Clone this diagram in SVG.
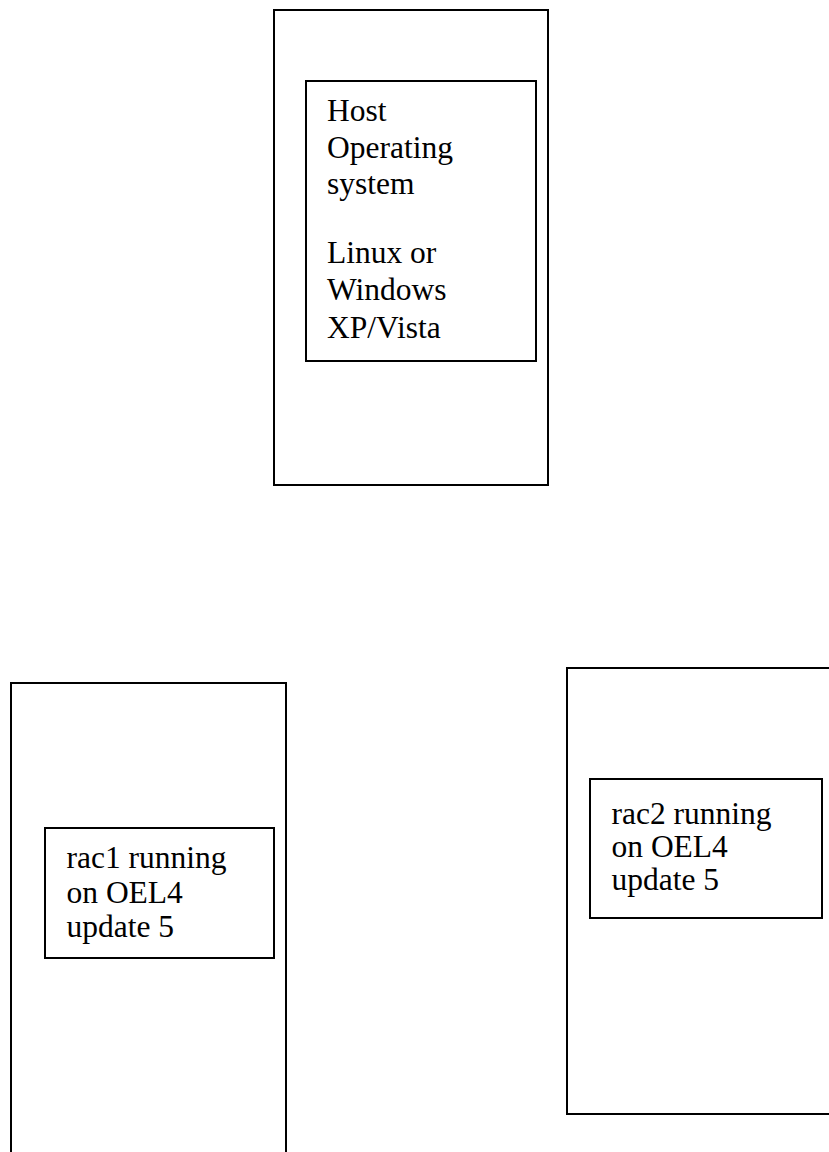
<svg xmlns="http://www.w3.org/2000/svg" width="829" height="1152" viewBox="0 0 829 1152">
<style>
.box{fill:#fff;stroke:#000;stroke-width:2}
.t{font-family:"Liberation Serif","Times New Roman",serif;font-size:31.5px;fill:#000}
</style>
<rect width="829" height="1152" fill="#fff"/>
<g id="host">
<rect class="box" x="274" y="10" width="274" height="475"/>
<g id="host-os">
<rect class="box" x="306" y="81" width="230" height="280"/>
<text class="t" x="327" y="120.5">Host</text>
<text class="t" x="327" y="157.5">Operating</text>
<text class="t" x="327" y="194">system</text>
<text class="t" x="327" y="262.5">Linux or</text>
<text class="t" x="327" y="300">Windows</text>
<text class="t" x="327" y="338">XP/Vista</text>
</g>
</g>
<g id="rac1-host">
<rect class="box" x="11" y="683" width="275" height="480"/>
<g id="rac1">
<rect class="box" x="45" y="828" width="229" height="130"/>
<text class="t" x="66.5" y="868">rac1 running</text>
<text class="t" x="66.5" y="902.5">on OEL4</text>
<text class="t" x="66.5" y="936.5">update 5</text>
</g>
</g>
<g id="rac2-host">
<rect class="box" x="567" y="668" width="275" height="446"/>
<g id="rac2">
<rect class="box" x="590" y="779" width="232" height="139"/>
<text class="t" x="611.5" y="824">rac2 running</text>
<text class="t" x="611.5" y="857">on OEL4</text>
<text class="t" x="611.5" y="890">update 5</text>
</g>
</g>
<g id="connectors"/>
</svg>
